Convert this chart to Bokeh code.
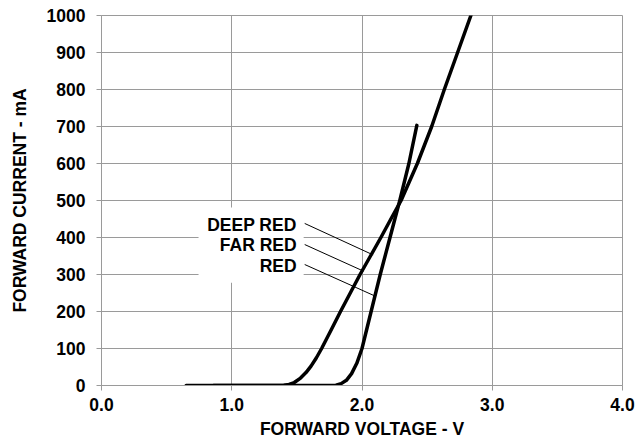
from bokeh.plotting import figure
from bokeh.models import Range1d, FixedTicker, NumeralTickFormatter, ColumnDataSource
from bokeh.core.properties import value
from bokeh.embed import file_html
from bokeh.resources import INLINE

# Curve with the lower forward voltage (DEEP RED / FAR RED)
v_deep = [0.65, 1.36, 1.40, 1.44, 1.48, 1.528, 1.57, 1.61, 1.65, 1.69, 1.76, 1.835,
          1.91, 1.985, 2.065, 2.145, 2.225, 2.30, 2.425, 2.535, 2.632, 2.734, 2.836]
i_deep = [0, 0, 1, 3, 8, 20, 35, 53, 75, 100, 148, 200,
          250, 300, 350, 400, 452, 500, 600, 700, 800, 900, 1000]

# Steep curve (RED)
v_red = [0.86, 1.76, 1.80, 1.84, 1.88, 1.92, 1.96, 2.00, 2.07, 2.105, 2.14,
         2.215, 2.29, 2.36, 2.421]
i_red = [0, 0, 1, 5, 14, 32, 60, 100, 200, 250, 300,
         400, 500, 600, 703]

labels = ["DEEP RED", "FAR RED", "RED"]
label_x = [1.498, 1.498, 1.498]
label_y = [435, 381, 324]
lead_x0 = [1.56, 1.56, 1.56]
lead_y0 = [438, 381, 327]
lead_x1 = [2.085, 2.012, 2.105]
lead_y1 = [353, 309, 241]

x_ticks = [0, 1, 2, 3, 4]
y_ticks = [0, 100, 200, 300, 400, 500, 600, 700, 800, 900, 1000]

FONT = "Liberation Sans"
FS = "17.5px"
GRID = "#9a9a9a"

p = figure(width=636, height=443, output_backend="svg", toolbar_location=None,
           x_range=Range1d(0, 4), y_range=Range1d(0, 1000),
           min_border_left=101, min_border_right=14, min_border_top=15, min_border_bottom=58)

p.outline_line_color = GRID
p.outline_line_width = 1
p.background_fill_color = "white"
p.border_fill_color = "white"

p.xgrid.ticker = FixedTicker(ticks=x_ticks)
p.ygrid.ticker = FixedTicker(ticks=y_ticks)
p.xgrid.grid_line_color = GRID
p.ygrid.grid_line_color = GRID
p.xgrid.grid_line_width = 1
p.ygrid.grid_line_width = 1

p.xaxis.ticker = FixedTicker(ticks=x_ticks)
p.yaxis.ticker = FixedTicker(ticks=y_ticks)
p.xaxis.formatter = NumeralTickFormatter(format="0.0")
p.yaxis.formatter = NumeralTickFormatter(format="0")

for ax in (p.xaxis, p.yaxis):
    ax.axis_line_color = GRID
    ax.major_tick_line_color = GRID
    ax.major_tick_in = 0
    ax.major_tick_out = 5
    ax.minor_tick_line_color = None
    ax.major_label_text_font = FONT
    ax.major_label_text_font_style = "bold"
    ax.major_label_text_font_size = FS
    ax.major_label_text_color = "black"
    ax.axis_label_text_font = FONT
    ax.axis_label_text_font_style = "bold"
    ax.axis_label_text_font_size = FS
    ax.axis_label_text_color = "black"

p.xaxis.axis_label = "FORWARD VOLTAGE - V"
p.yaxis.axis_label = "FORWARD CURRENT - mA"
p.xaxis.major_label_standoff = 7
p.yaxis.major_label_standoff = 11
p.xaxis.axis_label_standoff = 5
p.yaxis.axis_label_standoff = 14

# white box behind labels
p.quad(left=[0.745], right=[1.552], bottom=[278], top=[481],
       fill_color="white", line_color=None)

p.line(v_deep, i_deep, line_color="black", line_width=3.5, line_join="round", line_cap="round")
p.line(v_red, i_red, line_color="black", line_width=3.5, line_join="round", line_cap="round")

p.segment(x0=lead_x0, y0=lead_y0, x1=lead_x1, y1=lead_y1, line_color="black", line_width=1)

src = ColumnDataSource(dict(x=label_x, y=label_y, t=labels))
p.text(x="x", y="y", text="t", source=src, text_font=value(FONT), text_font_style="bold",
       text_font_size=FS, text_align="right", text_baseline="middle", text_color="black")

open("out.html", "w").write(file_html(p, INLINE))
